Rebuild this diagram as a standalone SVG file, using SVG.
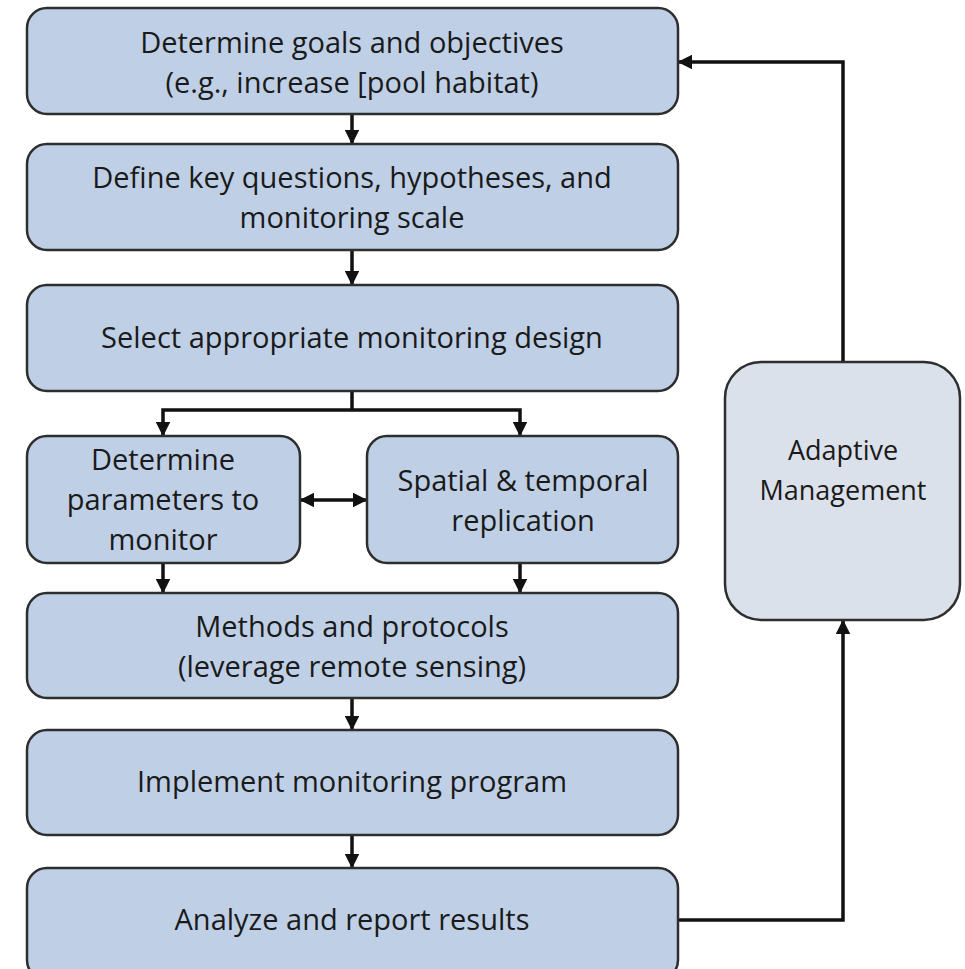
<svg xmlns="http://www.w3.org/2000/svg" width="965" height="969" viewBox="0 0 965 969">
  <style>
    .box { fill: #bfd0e6; stroke: #2e2e2e; stroke-width: 2.5; }
    .grey { fill: #dbe1ea; stroke: #2e2e2e; stroke-width: 2.5; }
    .lbl { font-family: "Open Sans", "Noto Sans", "Liberation Sans", sans-serif; font-size: 29px; fill: #1a1a1a; text-anchor: middle; }
    .side { font-size: 27px; }
    .wire { fill: none; stroke: #111; stroke-width: 3.5; }
  </style>
  <defs>
    <marker id="head" viewBox="0 0 10 10" refX="9" refY="5" markerWidth="4.2" markerHeight="4.2" orient="auto-start-reverse" markerUnits="strokeWidth">
      <path d="M0,0 L10,5 L0,10 z" fill="#111"/>
    </marker>
  </defs>
  <rect width="965" height="969" fill="#ffffff"/>

  <g id="connectors">
    <line class="wire" x1="352" y1="114" x2="352" y2="143" marker-end="url(#head)"/>
    <line class="wire" x1="352" y1="250" x2="352" y2="284" marker-end="url(#head)"/>
    <polyline class="wire" points="352,391 352,410"/>
    <polyline class="wire" points="163,435 163,410 520,410 520,435" marker-start="url(#head)" marker-end="url(#head)"/>
    <line class="wire" x1="301" y1="500" x2="366" y2="500" marker-start="url(#head)" marker-end="url(#head)"/>
    <line class="wire" x1="163" y1="563" x2="163" y2="592" marker-end="url(#head)"/>
    <line class="wire" x1="520" y1="563" x2="520" y2="592" marker-end="url(#head)"/>
    <line class="wire" x1="352" y1="698" x2="352" y2="729" marker-end="url(#head)"/>
    <line class="wire" x1="352" y1="835" x2="352" y2="867" marker-end="url(#head)"/>
    <polyline class="wire" points="678,920 843,920 843,621" marker-end="url(#head)"/>
    <polyline class="wire" points="843,362 843,62 679,62" marker-end="url(#head)"/>
  </g>

  <g id="goals">
    <rect class="box" x="27" y="8" width="651" height="106" rx="20"/>
    <text class="lbl" x="352" y="53">Determine goals and objectives</text>
    <text class="lbl" x="352" y="93">(e.g., increase [pool habitat)</text>
  </g>
  <g id="questions">
    <rect class="box" x="27" y="144" width="651" height="106" rx="20"/>
    <text class="lbl" x="352" y="188">Define key questions, hypotheses, and</text>
    <text class="lbl" x="352" y="228">monitoring scale</text>
  </g>
  <g id="design">
    <rect class="box" x="27" y="285" width="651" height="106" rx="20"/>
    <text class="lbl" x="352" y="348">Select appropriate monitoring design</text>
  </g>
  <g id="parameters">
    <rect class="box" x="27" y="436" width="273" height="127" rx="20"/>
    <text class="lbl" x="163" y="470">Determine</text>
    <text class="lbl" x="163" y="510">parameters to</text>
    <text class="lbl" x="163" y="550">monitor</text>
  </g>
  <g id="replication">
    <rect class="box" x="367" y="436" width="311" height="127" rx="20"/>
    <text class="lbl" x="523" y="491">Spatial &amp; temporal</text>
    <text class="lbl" x="523" y="531">replication</text>
  </g>
  <g id="methods">
    <rect class="box" x="27" y="593" width="651" height="105" rx="20"/>
    <text class="lbl" x="352" y="637">Methods and protocols</text>
    <text class="lbl" x="352" y="677">(leverage remote sensing)</text>
  </g>
  <g id="implement">
    <rect class="box" x="27" y="730" width="651" height="105" rx="20"/>
    <text class="lbl" x="352" y="792">Implement monitoring program</text>
  </g>
  <g id="analyze">
    <rect class="box" x="27" y="868" width="651" height="112" rx="20"/>
    <text class="lbl" x="352" y="930">Analyze and report results</text>
  </g>
  <g id="adaptive">
    <rect class="grey" x="725" y="362" width="235" height="258" rx="36"/>
    <text class="lbl side" x="843" y="460">Adaptive</text>
    <text class="lbl side" x="843" y="500">Management</text>
  </g>
</svg>
